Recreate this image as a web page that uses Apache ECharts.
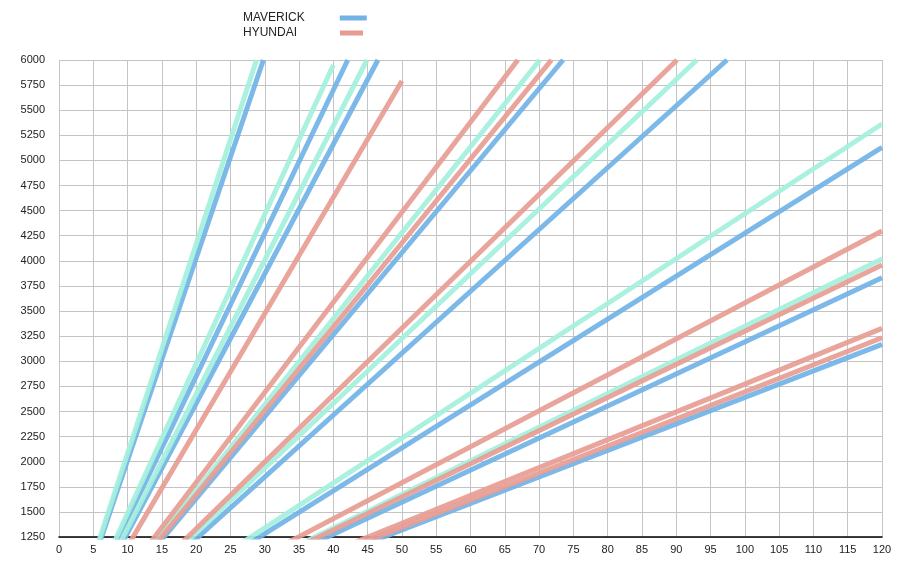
<!DOCTYPE html>
<html>
<head>
<meta charset="utf-8">
<script src="https://cdn.jsdelivr.net/npm/echarts@6/dist/echarts.min.js"></script>
<style>html,body{margin:0;padding:0;background:#fff;}#c{width:920px;height:567px;}</style>
</head>
<body>
<div id="c"></div>
<script>
// End points of each gear line (speed, rpm); every line starts at the origin
const maverickEndSpeed = [29.8, 42.1, 46.5, 73.5, 97.4, 120, 120, 120];
const maverickEndRpm   = [6000, 6000, 6000, 6000, 6000, 5130, 3832, 3168];
const cyanEndSpeed     = [28.8, 40, 44.9, 70.1, 93.0, 120, 120];
const cyanEndRpm       = [6000, 5950, 6000, 6000, 6000, 5363, 4018];
const hyundaiEndSpeed  = [50, 66.9, 71.8, 90.1, 120, 120, 120, 120];
const hyundaiEndRpm    = [5790, 6000, 6000, 6000, 4297, 3958, 3328, 3234];
const legendNames = ['MAVERICK', 'HYUNDAI'];

const colors = { MAVERICK: '#72b3e6', CYAN: '#a4f0dd', HYUNDAI: '#e79c93' };

function makeSeries(name, speeds, rpms) {
  return speeds.map((s, i) => ({
    name: name,
    type: 'line',
    symbol: 'none',
    clip: true,
    silent: true,
    data: [[0, 0], [s, rpms[i]]],
    lineStyle: { width: 5, color: colors[name], opacity: 0.92 },
    itemStyle: { color: colors[name] }
  }));
}

const series = [].concat(
  makeSeries('MAVERICK', maverickEndSpeed, maverickEndRpm),
  makeSeries('CYAN', cyanEndSpeed, cyanEndRpm),
  makeSeries('HYUNDAI', hyundaiEndSpeed, hyundaiEndRpm)
);

const font = 'Liberation Sans, Arial, sans-serif';
const chart = echarts.init(document.getElementById('c'), null, { renderer: 'canvas' });
chart.setOption({
  animation: false,
  backgroundColor: '#fff',
  legend: [
    { data: [legendNames[0]], left: 243, top: 12, padding: 0, align: 'right', icon: 'rect', itemWidth: 27, itemHeight: 5, itemGap: 4,
      textStyle: { fontSize: 12, color: '#222', fontFamily: font, padding: [0, 30, 0, 0] }, selectedMode: false },
    { data: [legendNames[1]], left: 243, top: 27, padding: 0, align: 'right', icon: 'rect', itemWidth: 23, itemHeight: 5, itemGap: 4,
      textStyle: { fontSize: 12, color: '#222', fontFamily: font, padding: [0, 38, 0, 0] }, selectedMode: false }
  ],
  grid: { left: 59, right: 38, top: 60, bottom: 30, containLabel: false },
  xAxis: {
    type: 'value', min: 0, max: 120, interval: 5,
    axisLine: { show: true, onZero: false, lineStyle: { color: '#000', width: 1.5 } },
    axisTick: { show: false },
    axisLabel: { fontSize: 11, color: '#222', margin: 7, fontFamily: font },
    splitLine: { show: true, lineStyle: { color: '#c4c4c4', width: 1 } }
  },
  yAxis: {
    type: 'value', min: 1250, max: 6000, interval: 250,
    axisLine: { show: false },
    axisTick: { show: false },
    axisLabel: { fontSize: 11, color: '#222', margin: 14, fontFamily: font, formatter: v => String(v) },
    splitLine: { show: true, lineStyle: { color: '#c4c4c4', width: 1 } }
  },
  series: series
});
</script>
</body>
</html>
